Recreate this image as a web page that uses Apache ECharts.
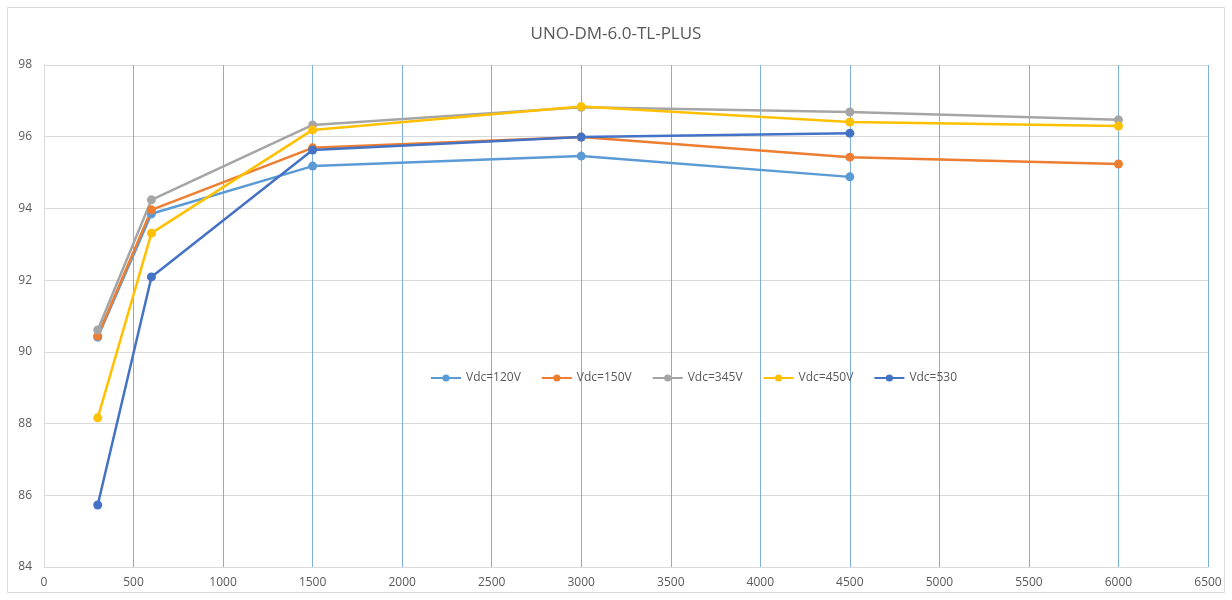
<!DOCTYPE html>
<html>
<head>
<meta charset="utf-8">
<script src="https://cdn.jsdelivr.net/npm/echarts@6/dist/echarts.min.js"></script>
<style>
  html, body { margin: 0; padding: 0; background: #fff; }
  #chart { width: 1232px; height: 600px; }
</style>
</head>
<body>
<div id="chart"></div>
<script>
const chartTitle = 'UNO-DM-6.0-TL-PLUS'
const powerW = [300, 600, 1500, 3000, 4500, 6000]
const seriesNames = ['Vdc=120V', 'Vdc=150V', 'Vdc=345V', 'Vdc=450V', 'Vdc=530']
const vdc120 = [90.41, 93.85, 95.18, 95.46, 94.88]
const vdc150 = [90.44, 93.96, 95.69, 95.99, 95.43, 95.24]
const vdc345 = [90.61, 94.24, 96.33, 96.82, 96.69, 96.47]
const vdc450 = [88.16, 93.31, 96.19, 96.84, 96.41, 96.30]
const vdc530 = [85.73, 92.09, 95.63, 95.99, 96.10]
const colors = ['#5B9BD5', '#ED7D31', '#A5A5A5', '#FFC000', '#4472C4']

const allValues = [vdc120, vdc150, vdc345, vdc450, vdc530]

const chart = echarts.init(document.getElementById('chart'))

const makeSeries = (name, vals, i) => ({
  name: name,
  type: 'line',
  data: vals.map((v, k) => [powerW[k], v]),
  symbol: 'circle',
  symbolSize: 9,
  lineStyle: { width: 2.5, color: colors[i] },
  itemStyle: { color: colors[i] },
  emphasis: { disabled: true }
})

chart.setOption({
  animation: false,
  color: colors,
  graphic: [
    {
      // 外边框
      type: 'rect',
      shape: { x: 7.5, y: 7.5, width: 1217, height: 585 },
      style: { fill: 'none', stroke: '#d9d9d9', lineWidth: 1 },
      z: -1
    }
  ],
  title: {
    text: chartTitle,
    left: 'center',
    top: 21,
    textStyle: {
      fontFamily: 'Open Sans',
      fontSize: 17,
      fontWeight: 'normal',
      color: '#595959'
    }
  },
  legend: {
    data: seriesNames,
    left: 425,
    top: 367,
    itemWidth: 30,
    itemHeight: 9,
    itemGap: 20,
    textStyle: { fontFamily: 'Open Sans', fontSize: 12, color: '#595959' }
  },
  grid: { left: 44, right: 24, top: 65, bottom: 33 },
  xAxis: {
    type: 'value',
    min: 0,
    max: 6500,
    interval: 500,
    axisLine: { show: true, lineStyle: { color: '#d9d9d9' } },
    axisTick: { show: false },
    axisLabel: {
      fontFamily: 'Open Sans', fontSize: 12, color: '#595959', margin: 10,
      formatter: v => String(v)
    },
    splitLine: { show: true, lineStyle: { color: '#7fb0dd', width: 1 } }
  },
  yAxis: {
    type: 'value',
    min: 84,
    max: 98,
    interval: 2,
    axisLine: { show: true, lineStyle: { color: '#d9d9d9' } },
    axisTick: { show: false },
    axisLabel: { fontFamily: 'Open Sans', fontSize: 12, color: '#595959', margin: 12 },
    splitLine: { show: true, lineStyle: { color: '#d9d9d9', width: 1 } }
  },
  series: seriesNames.map((n, i) => makeSeries(n, allValues[i], i))
})
</script>
</body>
</html>
